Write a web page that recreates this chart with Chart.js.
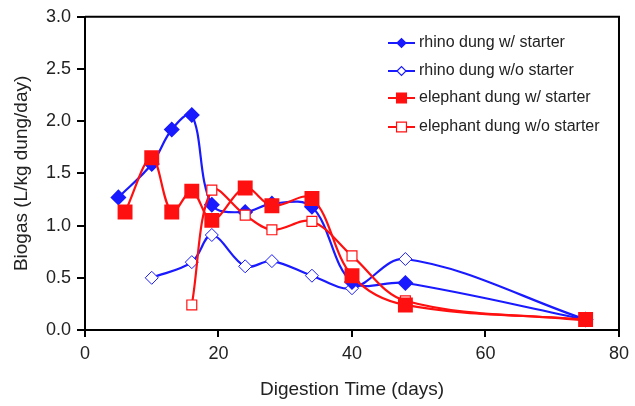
<!DOCTYPE html>
<html lang="en">
<head>
    <meta charset="UTF-8">
    <title>Biogas Production</title>
    <script src="https://cdn.jsdelivr.net/npm/chart.js"></script>
    <style>
        body {
            margin: 0;
            padding: 0;
            background-color: #fff;
        }

        .chart-container {
            width: 635px;
            height: 406px;
        }
    </style>
</head>
<body>
    <div class="chart-container">
        <canvas id="biogasChart"></canvas>
    </div>

    <script>
        // Digestion days and biogas yields (L/kg dung/day)
        const rhinoStarterDays = [5, 10, 13, 16, 19, 24, 28, 34, 40, 48, 75];
        const rhinoStarter = [1.27, 1.59, 1.92, 2.06, 1.20, 1.13, 1.21, 1.18, 0.46, 0.45, 0.10];

        const rhinoNoStarterDays = [10, 16, 19, 24, 28, 34, 40, 48, 75];
        const rhinoNoStarter = [0.50, 0.65, 0.91, 0.61, 0.66, 0.52, 0.40, 0.68, 0.10];

        const elephantStarterDays = [6, 10, 13, 16, 19, 24, 28, 34, 40, 48, 75];
        const elephantStarter = [1.13, 1.65, 1.13, 1.33, 1.05, 1.36, 1.19, 1.26, 0.52, 0.24, 0.10];

        const elephantNoStarterDays = [16, 19, 24, 28, 34, 40, 48, 75];
        const elephantNoStarter = [0.24, 1.34, 1.10, 0.96, 1.04, 0.71, 0.28, 0.09];

        const seriesLabels = ['rhino dung w/ starter', 'rhino dung w/o starter',
            'elephant dung w/ starter', 'elephant dung w/o starter'];

        const BLUE = '#1a1aff';
        const RED = '#ff1010';
        const FONT = '"Liberation Sans", Arial, sans-serif';

        function toPoints(days, values) {
            return days.map((d, i) => ({ x: d, y: values[i] }));
        }

        // legend drawn inside the plot, line + small marker like the original
        const boxLegend = {
            id: 'boxLegend',
            afterDraw(chart) {
                const ctx = chart.ctx;
                const x0 = 388, x1 = 415, textX = 419;
                const rows = [43, 71, 98, 127];
                ctx.save();
                chart.data.datasets.forEach((ds) => {
                    const idx = ds.legendIndex;
                    const y = rows[idx];
                    ctx.strokeStyle = ds.borderColor;
                    ctx.lineWidth = 2;
                    ctx.beginPath();
                    ctx.moveTo(x0, y);
                    ctx.lineTo(x1, y);
                    ctx.stroke();
                    ctx.fillStyle = ds.pointBackgroundColor;
                    ctx.strokeStyle = ds.borderColor;
                    ctx.lineWidth = 1.2;
                    Chart.helpers.drawPoint(ctx, {
                        pointStyle: ds.pointStyle,
                        radius: ds.pointStyle === 'rect' ? 7 : 4.5,
                        borderWidth: 1.2,
                        rotation: 0
                    }, (x0 + x1) / 2, y);
                    ctx.fillStyle = '#222';
                    ctx.font = '16px ' + FONT;
                    ctx.textBaseline = 'middle';
                    ctx.textAlign = 'left';
                    ctx.fillText(seriesLabels[idx], textX, y);
                });
                ctx.restore();
            }
        };

        // top and right frame lines
        const frame = {
            id: 'frame',
            afterDraw(chart) {
                const { ctx, chartArea: a } = chart;
                ctx.save();
                ctx.strokeStyle = '#000';
                ctx.lineWidth = 2;
                ctx.beginPath();
                ctx.moveTo(a.left, a.top);
                ctx.lineTo(a.right, a.top);
                ctx.lineTo(a.right, a.bottom);
                ctx.stroke();
                ctx.restore();
            }
        };

        const ctx = document.getElementById('biogasChart').getContext('2d');
        const chart = new Chart(ctx, {
            type: 'line',
            data: {
                datasets: [{
                    legendIndex: 0,
                    order: 2,
                    data: toPoints(rhinoStarterDays, rhinoStarter),
                    borderColor: BLUE,
                    pointBackgroundColor: BLUE,
                    pointBorderColor: BLUE,
                    pointStyle: 'rectRot',
                    pointRadius: 6.5,
                    borderWidth: 2.2,
                    tension: 0.35
                },
                {
                    legendIndex: 1,
                    order: 3,
                    data: toPoints(rhinoNoStarterDays, rhinoNoStarter),
                    borderColor: BLUE,
                    pointBackgroundColor: '#fff',
                    pointBorderColor: BLUE,
                    pointStyle: 'rectRot',
                    pointRadius: 6.5,
                    pointBorderWidth: 1,
                    borderWidth: 2.2,
                    tension: 0.35
                },
                {
                    legendIndex: 2,
                    order: 0,
                    data: toPoints(elephantStarterDays, elephantStarter),
                    borderColor: RED,
                    pointBackgroundColor: RED,
                    pointBorderColor: RED,
                    pointStyle: 'rect',
                    pointRadius: 9,
                    borderWidth: 2.2,
                    tension: 0.35
                },
                {
                    legendIndex: 3,
                    order: 1,
                    data: toPoints(elephantNoStarterDays, elephantNoStarter),
                    borderColor: RED,
                    pointBackgroundColor: '#fff',
                    pointBorderColor: RED,
                    pointStyle: 'rect',
                    pointRadius: 7,
                    pointBorderWidth: 1.2,
                    borderWidth: 2.2,
                    tension: 0.35
                }]
            },
            options: {
                responsive: true,
                maintainAspectRatio: false,
                animation: false,
                layout: {
                    padding: { left: 0, right: 14, top: 16, bottom: 0 }
                },
                scales: {
                    x: {
                        type: 'linear',
                        min: 0,
                        max: 80,
                        afterFit: (scale) => { scale.height = 76; },
                        ticks: {
                            stepSize: 20,
                            padding: 6,
                            color: '#222',
                            font: { family: FONT, size: 18 }
                        },
                        grid: {
                            drawOnChartArea: false,
                            tickLength: 7,
                            color: '#000',
                            lineWidth: 2
                        },
                        border: { color: '#000', width: 2 },
                        title: {
                            display: true,
                            text: 'Digestion Time (days)',
                            color: '#222',
                            padding: { top: 0, bottom: 5 },
                            font: { family: FONT, size: 19 }
                        }
                    },
                    y: {
                        min: 0,
                        max: 3,
                        afterFit: (scale) => { scale.width = 85; },
                        ticks: {
                            stepSize: 0.5,
                            padding: 6,
                            color: '#222',
                            font: { family: FONT, size: 18 },
                            callback: (v) => v.toFixed(1)
                        },
                        grid: {
                            drawOnChartArea: false,
                            tickLength: 8,
                            color: '#000',
                            lineWidth: 2
                        },
                        border: { color: '#000', width: 2 },
                        title: {
                            display: true,
                            text: 'Biogas (L/kg dung/day)',
                            color: '#222',
                            padding: { top: 10, bottom: 0 },
                            font: { family: FONT, size: 19 }
                        }
                    }
                },
                plugins: {
                    legend: { display: false },
                    tooltip: { enabled: false }
                }
            },
            plugins: [frame, boxLegend]
        });
    </script>
</body>
</html>
